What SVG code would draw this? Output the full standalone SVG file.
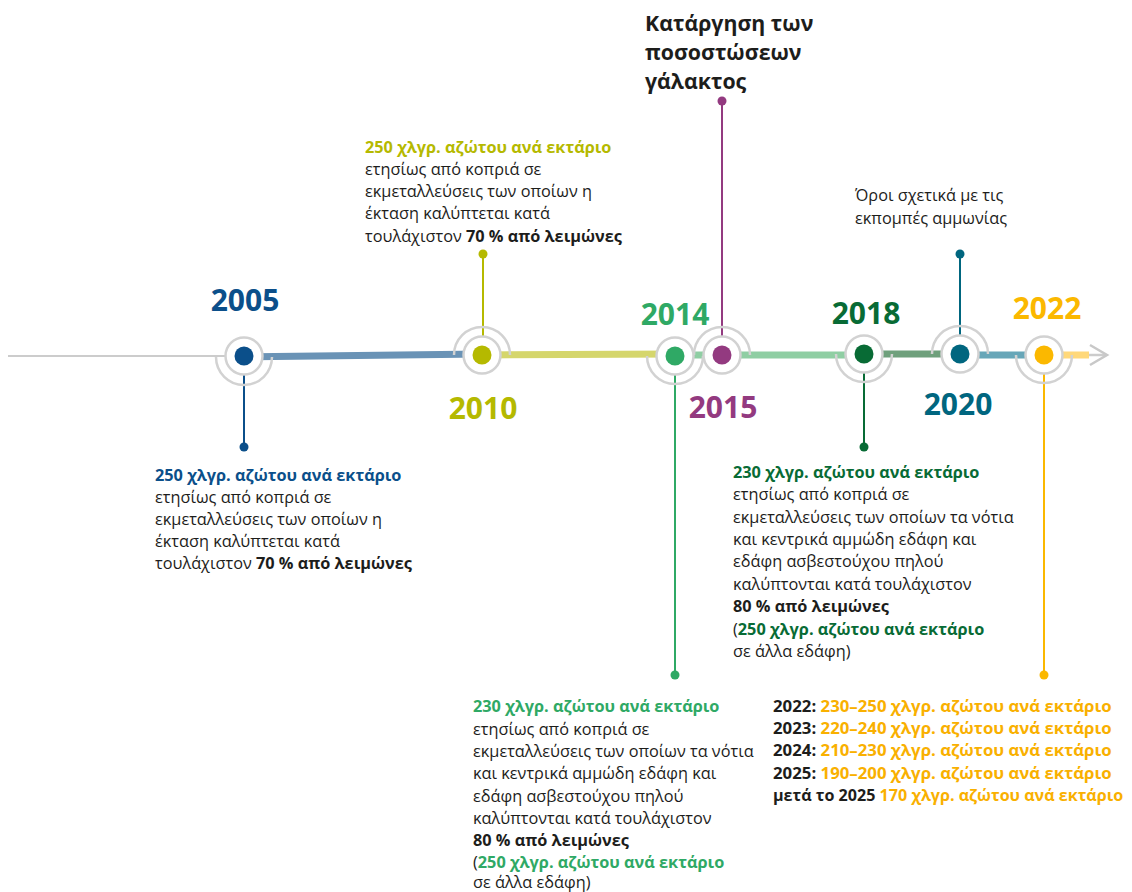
<svg xmlns="http://www.w3.org/2000/svg" width="1132" height="892" viewBox="0 0 1132 892">
<style>
text{font-family:"Open Sans","Noto Sans","DejaVu Sans",sans-serif;}
.t{font-size:16.3px;fill:#1d1d1b;}
.t22{font-size:16.8px;fill:#1d1d1b;font-weight:bold;}
.b{font-weight:bold;}
.yr{font-size:30px;font-weight:bold;text-anchor:middle;}
.ttl{font-size:21.3px;font-weight:bold;fill:#1d1d1b;}
.ring{fill:#fff;stroke:#d2d2d2;stroke-width:2.5;}
.arc{fill:none;stroke:#d2d2d2;stroke-width:2.5;}
.bar{stroke-width:7;fill:none;}
.stem{stroke-width:2;fill:none;}
.c05{fill:#0b4f8a;}.s05{stroke:#0b4f8a;}
.c10{fill:#b5b900;}.s10{stroke:#b5b900;}
.c14{fill:#2fa965;}.s14{stroke:#2fa965;}
.c15{fill:#933a80;}.s15{stroke:#933a80;}
.c18{fill:#086b35;}.s18{stroke:#086b35;}
.c20{fill:#00667f;}.s20{stroke:#00667f;}
.c22{fill:#fbb800;}.s22{stroke:#fbb800;}
.o22{fill:#f9b000;}
</style>
<rect width="1132" height="892" fill="#fff"/>
<g id="connectors">
<line x1="8" y1="356" x2="230" y2="356" stroke="#cccccc" stroke-width="2"/>
<line x1="1088" y1="355" x2="1106" y2="355" stroke="#cccccc" stroke-width="2.5"/>
<polyline points="1090,345 1107,355 1090,365" fill="none" stroke="#c8c8c8" stroke-width="2.5"/>
<line class="bar" x1="244" y1="357" x2="482" y2="354" stroke="#6a93b6"/>
<line class="bar" x1="482" y1="355" x2="675" y2="354" stroke="#d5d66c"/>
<line class="bar" x1="675" y1="355" x2="864" y2="355" stroke="#8fcea3"/>
<line class="bar" x1="864" y1="354" x2="960" y2="354" stroke="#6fa07c"/>
<line class="bar" x1="960" y1="355" x2="1044" y2="355" stroke="#67a6b8"/>
<line class="bar" x1="1044" y1="355" x2="1089" y2="355" stroke="#ffd87a"/>
<line class="stem s05" x1="244" y1="375" x2="244" y2="447"/>
<line class="stem s10" x1="483" y1="254" x2="483" y2="336"/>
<line class="stem s14" x1="675" y1="375" x2="675" y2="675"/>
<line class="stem s15" x1="722" y1="101" x2="722" y2="336"/>
<line class="stem s18" x1="864" y1="373" x2="864" y2="447"/>
<line class="stem s20" x1="960" y1="254" x2="960" y2="335"/>
<line class="stem s22" x1="1044" y1="374" x2="1044" y2="675"/>
</g>
<g id="n2005">
<path class="arc" d="M216,357 A28,28 0 0 0 272,357"/>
<circle class="ring" cx="244" cy="356" r="18.5"/>
<circle class="c05" cx="244" cy="356" r="9.5"/>
<circle class="c05" cx="244" cy="447" r="4.5"/>
<text class="yr c05" x="245" y="311">2005</text>
<text class="t" x="155"><tspan class="b c05" x="155" y="481">250 χλγρ. αζώτου ανά εκτάριο</tspan><tspan x="155" y="503">ετησίως από κοπριά σε</tspan><tspan x="155" y="525">εκμεταλλεύσεις των οποίων η</tspan><tspan x="155" y="547">έκταση καλύπτεται κατά</tspan><tspan x="155" y="569">τουλάχιστον <tspan class="b">70 % από λειμώνες</tspan></tspan></text>
</g>
<g id="n2010">
<path class="arc" d="M454,355 A28,28 0 0 1 510,355"/>
<circle class="ring" cx="482" cy="355" r="18.5"/>
<circle class="c10" cx="482" cy="355" r="9.5"/>
<circle class="c10" cx="483" cy="254" r="4.5"/>
<text class="yr c10" x="483" y="419">2010</text>
<text class="t" x="365"><tspan class="b c10" x="365" y="153">250 χλγρ. αζώτου ανά εκτάριο</tspan><tspan x="365" y="175">ετησίως από κοπριά σε</tspan><tspan x="365" y="197">εκμεταλλεύσεις των οποίων η</tspan><tspan x="365" y="219">έκταση καλύπτεται κατά</tspan><tspan x="365" y="242">τουλάχιστον <tspan class="b">70 % από λειμώνες</tspan></tspan></text>
</g>
<g id="n2014">
<path class="arc" d="M647,356 A28,28 0 0 0 703,356"/>
<circle class="ring" cx="675" cy="356" r="18.5"/>
<circle class="c14" cx="675" cy="356" r="9.5"/>
<circle class="c14" cx="675" cy="675" r="4.5"/>
<text class="yr c14" x="675" y="325">2014</text>
<text class="t" x="473"><tspan class="b c14" x="473" y="712">230 χλγρ. αζώτου ανά εκτάριο</tspan><tspan x="473" y="735">ετησίως από κοπριά σε</tspan><tspan x="473" y="757">εκμεταλλεύσεις των οποίων τα νότια</tspan><tspan x="473" y="779">και κεντρικά αμμώδη εδάφη και</tspan><tspan x="473" y="802">εδάφη ασβεστούχου πηλού</tspan><tspan x="473" y="824">καλύπτονται κατά τουλάχιστον</tspan><tspan class="b" x="473" y="846">80 % από λειμώνες</tspan><tspan x="473" y="868">(<tspan class="b c14">250 χλγρ. αζώτου ανά εκτάριο</tspan></tspan><tspan x="473" y="888">σε άλλα εδάφη)</tspan></text>
</g>
<g id="n2015">
<path class="arc" d="M694,355 A28,28 0 0 1 750,355"/>
<circle class="ring" cx="722" cy="355" r="18.5"/>
<circle class="c15" cx="722" cy="355" r="9.5"/>
<circle class="c15" cx="722" cy="101" r="4.5"/>
<text class="yr c15" x="723" y="418">2015</text>
<text class="ttl"><tspan x="645" y="31">Κατάργηση των</tspan><tspan x="645" y="60">ποσοστώσεων</tspan><tspan x="645" y="89">γάλακτος</tspan></text>
</g>
<g id="n2018">
<path class="arc" d="M836,354 A28,28 0 0 0 892,354"/>
<circle class="ring" cx="864" cy="354" r="18.5"/>
<circle class="c18" cx="864" cy="354" r="9.5"/>
<circle class="c18" cx="864" cy="447" r="4.5"/>
<text class="yr c18" x="866" y="324">2018</text>
<text class="t" x="733"><tspan class="b c18" x="733" y="478">230 χλγρ. αζώτου ανά εκτάριο</tspan><tspan x="733" y="500">ετησίως από κοπριά σε</tspan><tspan x="733" y="523">εκμεταλλεύσεις των οποίων τα νότια</tspan><tspan x="733" y="545">και κεντρικά αμμώδη εδάφη και</tspan><tspan x="733" y="567">εδάφη ασβεστούχου πηλού</tspan><tspan x="733" y="590">καλύπτονται κατά τουλάχιστον</tspan><tspan class="b" x="733" y="612">80 % από λειμώνες</tspan><tspan x="733" y="635">(<tspan class="b c18">250 χλγρ. αζώτου ανά εκτάριο</tspan></tspan><tspan x="733" y="657">σε άλλα εδάφη)</tspan></text>
</g>
<g id="n2020">
<path class="arc" d="M932,354 A28,28 0 0 1 988,354"/>
<circle class="ring" cx="960" cy="354" r="18.5"/>
<circle class="c20" cx="960" cy="354" r="9.5"/>
<circle class="c20" cx="960" cy="254" r="4.5"/>
<text class="yr c20" x="958" y="415">2020</text>
<text class="t"><tspan x="855" y="201">Όροι σχετικά με τις</tspan><tspan x="855" y="224">εκπομπές αμμωνίας</tspan></text>
</g>
<g id="n2022">
<path class="arc" d="M1016,355 A28,28 0 0 0 1072,355"/>
<circle class="ring" cx="1044" cy="355" r="18.5"/>
<circle class="c22" cx="1044" cy="355" r="9.5"/>
<circle class="c22" cx="1044" cy="675" r="4.5"/>
<text class="yr c22" x="1047" y="319">2022</text>
<text class="t22"><tspan x="773" y="712">2022: <tspan class="o22">230–250 χλγρ. αζώτου ανά εκτάριο</tspan></tspan><tspan x="773" y="734">2023: <tspan class="o22">220–240 χλγρ. αζώτου ανά εκτάριο</tspan></tspan><tspan x="773" y="756">2024: <tspan class="o22">210–230 χλγρ. αζώτου ανά εκτάριο</tspan></tspan><tspan x="773" y="779">2025: <tspan class="o22">190–200 χλγρ. αζώτου ανά εκτάριο</tspan></tspan></text>
<text class="t22" style="font-size:16.1px"><tspan x="773" y="801">μετά το 2025 <tspan class="o22">170 χλγρ. αζώτου ανά εκτάριο</tspan></tspan></text>
</g>
</svg>
